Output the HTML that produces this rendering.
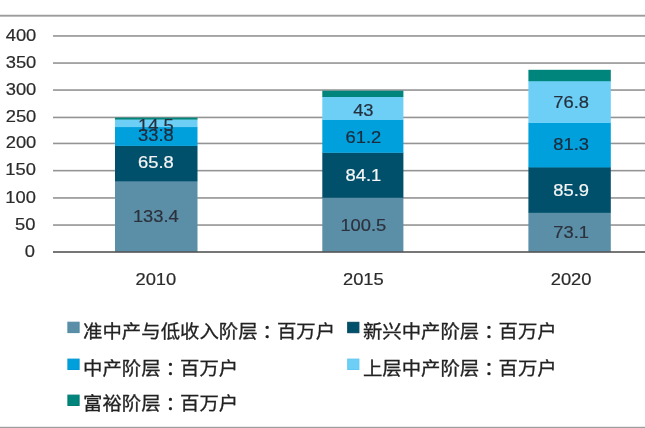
<!DOCTYPE html>
<html lang="zh"><head><meta charset="utf-8"><title>chart</title>
<style>
html,body{margin:0;padding:0;background:#fff;}
body{width:645px;height:428px;overflow:hidden;position:relative;}
svg{display:block;position:absolute;left:0;top:0;}
text{font-family:"Liberation Sans","Noto Sans CJK SC",sans-serif;}
.ax{font-size:17px;fill:#2b2b2b;stroke:#2b2b2b;stroke-width:0.2px;}
.lb{font-size:17px;stroke-width:0.2px;}
.lg{font-size:19px;fill:#222;stroke:#222;stroke-width:0.3px;font-family:"Liberation Sans","Noto Sans CJK SC",sans-serif;}
.tc{font-family:"Liberation Sans","Noto Sans CJK TC","Noto Sans CJK JP",sans-serif;}
</style></head><body>
<svg width="645" height="428" viewBox="0 0 645 428">
<rect x="0" y="0" width="645" height="428" fill="#ffffff"/>
<rect x="0" y="14.75" width="645" height="1.9" fill="#9c9c9c"/>
<rect x="0" y="426.8" width="645" height="1.2" fill="#9c9c9c"/>

<rect x="53" y="224.25" width="592" height="1.6" fill="#949494"/>
<rect x="53" y="197.15" width="592" height="1.6" fill="#949494"/>
<rect x="53" y="169.85" width="592" height="1.6" fill="#949494"/>
<rect x="53" y="142.65" width="592" height="1.6" fill="#949494"/>
<rect x="53" y="116.65" width="592" height="1.6" fill="#949494"/>
<rect x="53" y="89.25" width="592" height="1.6" fill="#949494"/>
<rect x="53" y="62.25" width="592" height="1.6" fill="#949494"/>
<rect x="53" y="35.15" width="592" height="1.6" fill="#949494"/>
<rect x="115" y="181.00" width="82.5" height="71.10" fill="#5b8fa8"/>
<rect x="115" y="145.60" width="82.5" height="35.70" fill="#004f6b"/>
<rect x="115" y="126.80" width="82.5" height="19.10" fill="#00a0dc"/>
<rect x="115" y="119.30" width="82.5" height="7.80" fill="#6dcff6"/>
<rect x="115" y="117.60" width="82.5" height="2.00" fill="#00857c"/>
<rect x="322.3" y="197.50" width="81.1" height="54.60" fill="#5b8fa8"/>
<rect x="322.3" y="152.50" width="81.1" height="45.30" fill="#004f6b"/>
<rect x="322.3" y="119.70" width="81.1" height="33.10" fill="#00a0dc"/>
<rect x="322.3" y="96.70" width="81.1" height="23.30" fill="#6dcff6"/>
<rect x="322.3" y="90.70" width="81.1" height="6.30" fill="#00857c"/>
<rect x="528.4" y="212.60" width="82.4" height="39.50" fill="#5b8fa8"/>
<rect x="528.4" y="167.10" width="82.4" height="45.80" fill="#004f6b"/>
<rect x="528.4" y="122.60" width="82.4" height="44.80" fill="#00a0dc"/>
<rect x="528.4" y="80.90" width="82.4" height="42.00" fill="#6dcff6"/>
<rect x="528.4" y="69.80" width="82.4" height="11.40" fill="#00857c"/>
<rect x="53" y="251.20" width="592" height="1.6" fill="#555"/>
<text class="ax" transform="translate(34.9,256.89) scale(1.08,1)" text-anchor="end">0</text>
<text class="ax" transform="translate(35.5,229.89) scale(1.08,1)" text-anchor="end">50</text>
<text class="ax" transform="translate(35.9,202.79) scale(1.08,1)" text-anchor="end">100</text>
<text class="ax" transform="translate(35.9,175.49) scale(1.08,1)" text-anchor="end">150</text>
<text class="ax" transform="translate(36.3,148.29) scale(1.08,1)" text-anchor="end">200</text>
<text class="ax" transform="translate(36.3,122.29) scale(1.08,1)" text-anchor="end">250</text>
<text class="ax" transform="translate(36.3,94.89) scale(1.08,1)" text-anchor="end">300</text>
<text class="ax" transform="translate(36.3,67.89) scale(1.08,1)" text-anchor="end">350</text>
<text class="ax" transform="translate(36.3,40.79) scale(1.08,1)" text-anchor="end">400</text>
<text class="lb" transform="translate(155.85,222.39) scale(1.08,1)" text-anchor="middle" fill="#2c313c" stroke="#2c313c">133.4</text>
<text class="lb" transform="translate(155.85,168.39) scale(1.08,1)" text-anchor="middle" fill="#f6f6f6" stroke="#f6f6f6">65.8</text>
<text class="lb" transform="translate(155.85,141.09) scale(1.08,1)" text-anchor="middle" fill="#1b2b3c" stroke="#1b2b3c">33.8</text>
<text class="lb" transform="translate(155.85,130.59) scale(1.08,1)" text-anchor="middle" fill="#25303f" stroke="#25303f">14.5</text>
<text class="lb" transform="translate(363.35,231.09) scale(1.08,1)" text-anchor="middle" fill="#2c313c" stroke="#2c313c">100.5</text>
<text class="lb" transform="translate(363.35,181.39) scale(1.08,1)" text-anchor="middle" fill="#f6f6f6" stroke="#f6f6f6">84.1</text>
<text class="lb" transform="translate(363.35,142.79) scale(1.08,1)" text-anchor="middle" fill="#1b2b3c" stroke="#1b2b3c">61.2</text>
<text class="lb" transform="translate(363.35,115.79) scale(1.08,1)" text-anchor="middle" fill="#25303f" stroke="#25303f">43</text>
<text class="lb" transform="translate(571.10,238.29) scale(1.08,1)" text-anchor="middle" fill="#2c313c" stroke="#2c313c">73.1</text>
<text class="lb" transform="translate(571.10,195.99) scale(1.08,1)" text-anchor="middle" fill="#f6f6f6" stroke="#f6f6f6">85.9</text>
<text class="lb" transform="translate(571.10,150.29) scale(1.08,1)" text-anchor="middle" fill="#1b2b3c" stroke="#1b2b3c">81.3</text>
<text class="lb" transform="translate(571.10,108.49) scale(1.08,1)" text-anchor="middle" fill="#25303f" stroke="#25303f">76.8</text>
<text class="ax" transform="translate(155.85,284.59) scale(1.08,1)" text-anchor="middle">2010</text>
<text class="ax" transform="translate(363.35,284.59) scale(1.08,1)" text-anchor="middle">2015</text>
<text class="ax" transform="translate(571.10,284.59) scale(1.08,1)" text-anchor="middle">2020</text>
<rect x="67.9" y="322.2" width="11.2" height="10.4" fill="#5b8fa8" stroke="#4f89a3" stroke-width="1"/>
<text class="lg" transform="translate(83.1,338.2) scale(1.021,0.955)">准中产与低收入阶层<tspan class="tc" lang="zh-TW" dy="0.9">：</tspan><tspan dy="-0.9">百万户</tspan></text>
<rect x="347.7" y="322.3" width="11.2" height="10.4" fill="#004f6b" stroke="#00465f" stroke-width="1"/>
<text class="lg" transform="translate(362.9,338.2) scale(1.021,0.955)">新兴中产阶层<tspan class="tc" lang="zh-TW" dy="0.9">：</tspan><tspan dy="-0.9">百万户</tspan></text>
<rect x="67.9" y="359.1" width="11.2" height="10.4" fill="#00a0dc" stroke="#0098d4" stroke-width="1"/>
<text class="lg" transform="translate(83.1,375.2) scale(1.021,0.955)">中产阶层<tspan class="tc" lang="zh-TW" dy="0.9">：</tspan><tspan dy="-0.9">百万户</tspan></text>
<rect x="347.7" y="359.1" width="11.2" height="10.4" fill="#6dcff6" stroke="#62c8f2" stroke-width="1"/>
<text class="lg" transform="translate(362.9,375.2) scale(1.021,0.955)">上层中产阶层<tspan class="tc" lang="zh-TW" dy="0.9">：</tspan><tspan dy="-0.9">百万户</tspan></text>
<rect x="67.9" y="395.1" width="11.2" height="10.4" fill="#00857c" stroke="#007c73" stroke-width="1"/>
<text class="lg" transform="translate(83.1,409.7) scale(1.021,0.955)">富裕阶层<tspan class="tc" lang="zh-TW" dy="0.9">：</tspan><tspan dy="-0.9">百万户</tspan></text>
</svg></body></html>
